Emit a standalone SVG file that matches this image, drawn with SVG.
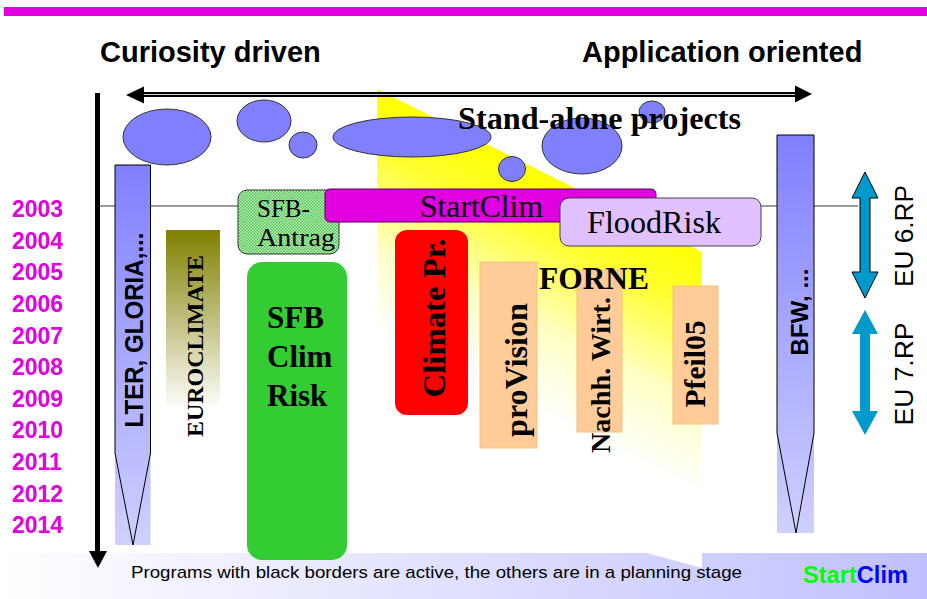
<svg xmlns="http://www.w3.org/2000/svg" width="927" height="599" viewBox="0 0 927 599">
<defs>
<style>
.yr{font-family:"Liberation Sans",Arial,sans-serif;font-weight:bold;font-size:23px;fill:#e000e0}
.hd{font-family:"Liberation Sans",Arial,sans-serif;font-weight:bold;font-size:29px;fill:#000}
.sb{font-family:"Liberation Serif","Times New Roman",serif;font-weight:bold;fill:#000}
.sr{font-family:"Liberation Serif","Times New Roman",serif;fill:#000}
.ss{font-family:"Liberation Sans",Arial,sans-serif;fill:#000}
.ell{fill:#8080ff;stroke:#333;stroke-width:1}
.peach{fill:#ffcc99;stroke:#f5c078;stroke-width:1}
</style>
<linearGradient id="foot" x1="0" y1="0" x2="1" y2="0">
<stop offset="0" stop-color="#ffffff"/><stop offset="1" stop-color="#c0c0ff"/>
</linearGradient>
<linearGradient id="blue" x1="0" y1="0" x2="0" y2="1">
<stop offset="0" stop-color="#8080ff"/><stop offset="1" stop-color="#d0d0ff"/>
</linearGradient>
<linearGradient id="olive" x1="0" y1="0" x2="0" y2="1">
<stop offset="0" stop-color="#808000"/><stop offset="1" stop-color="#ffffff"/>
</linearGradient>
<linearGradient id="yel" gradientUnits="userSpaceOnUse" x1="540" y1="170" x2="442" y2="367">
<stop offset="0" stop-color="#ffff00"/><stop offset="0.25" stop-color="#ffff30"/><stop offset="0.65" stop-color="#ffffc8"/><stop offset="1" stop-color="#ffffff"/>
</linearGradient>
<pattern id="chk" width="3" height="3" patternUnits="userSpaceOnUse">
<rect width="3" height="3" fill="#c4f0c4"/><rect width="1.5" height="1.5" fill="#4cc44c"/><rect x="1.5" y="1.5" width="1.5" height="1.5" fill="#4cc44c"/>
</pattern>
</defs>

<rect x="0" y="0" width="927" height="599" fill="#ffffff"/>
<rect id="topbar" x="4" y="7" width="923" height="9" fill="#e000e0"/>
<rect id="footer" x="0" y="553" width="927" height="46" fill="url(#foot)"/>

<g id="headings">
<text class="hd" x="100" y="62">Curiosity driven</text>
<text class="hd" x="582" y="62">Application oriented</text>
</g>

<g id="years">
<text class="yr" x="12" y="217">2003</text>
<text class="yr" x="12" y="249">2004</text>
<text class="yr" x="12" y="280">2005</text>
<text class="yr" x="12" y="312">2006</text>
<text class="yr" x="12" y="344">2007</text>
<text class="yr" x="12" y="375">2008</text>
<text class="yr" x="12" y="407">2009</text>
<text class="yr" x="12" y="438">2010</text>
<text class="yr" x="12" y="470">2011</text>
<text class="yr" x="12" y="502">2012</text>
<text class="yr" x="12" y="533">2014</text>
</g>

<g id="forne-area">
<polygon points="377,89 702,252 702,568 377,480" fill="url(#yel)"/>
</g>

<g id="connectors">
<line x1="100" y1="206" x2="858" y2="206" stroke="#777" stroke-width="1.5"/>
<rect x="140" y="92" width="658" height="5" fill="#000"/>
<line x1="140" y1="94.5" x2="798" y2="94.5" stroke="#ccc" stroke-width="1.2"/>
<polygon points="126,95 144,86.5 144,103.5" fill="#000"/>
<polygon points="812,94 795,85.5 795,102.5" fill="#000"/>
<rect x="95" y="93" width="5" height="460" fill="#000"/>
<polygon points="89,551 107,551 98,568" fill="#000"/>
</g>

<g id="standalone">
<ellipse class="ell" cx="167" cy="137" rx="44" ry="28"/>
<ellipse class="ell" cx="264" cy="121" rx="27" ry="21"/>
<ellipse class="ell" cx="303" cy="145" rx="14" ry="13"/>
<ellipse class="ell" cx="412" cy="137" rx="79" ry="20"/>
<ellipse class="ell" cx="582" cy="146" rx="40" ry="28"/>
<ellipse class="ell" cx="652" cy="112" rx="13" ry="11"/>
<ellipse class="ell" cx="512" cy="169" rx="13.5" ry="12.5"/>
<text class="sb" x="458" y="129" font-size="31" textLength="283" lengthAdjust="spacingAndGlyphs">Stand-alone projects</text>
</g>

<g id="lter">
<rect x="115" y="165" width="35.5" height="380" fill="url(#blue)"/>
<path d="M115,453 L115,165 L150.5,165 L150.5,453 L133,545 Z" fill="none" stroke="#000" stroke-width="1"/>
<text class="ss" font-weight="bold" font-size="26" text-anchor="middle" textLength="195" lengthAdjust="spacingAndGlyphs" transform="translate(143,330) rotate(-90)">LTER, GLORIA,...</text>
</g>

<g id="euroclimate">
<rect x="166" y="230" width="54" height="180" fill="url(#olive)"/>
<text class="sb" font-size="24" text-anchor="middle" textLength="182" lengthAdjust="spacingAndGlyphs" transform="translate(203,346) rotate(-90)">EUROCLIMATE</text>
</g>

<g id="sfb-antrag">
<rect x="238" y="190" width="101" height="64" rx="9" fill="url(#chk)" stroke="#333" stroke-width="1"/>
<text class="sr" x="257" y="217" font-size="25">SFB-</text>
<text class="sr" x="257" y="246" font-size="25" textLength="78" lengthAdjust="spacingAndGlyphs">Antrag</text>
</g>

<g id="startclim">
<rect x="325" y="189" width="331" height="33" rx="5" fill="#e000e0" stroke="#550055" stroke-width="1"/>
<text class="sr" x="420" y="217" font-size="31" textLength="123" lengthAdjust="spacingAndGlyphs">StartClim</text>
</g>

<g id="floodrisk">
<rect x="560" y="198" width="201" height="48" rx="9" fill="#e0c0ff" stroke="#444" stroke-width="1"/>
<text class="sr" x="587" y="233" font-size="32" textLength="134" lengthAdjust="spacingAndGlyphs">FloodRisk</text>
</g>

<g id="sfb-climrisk">
<rect x="247" y="262" width="100" height="298" rx="15" fill="#33cc33"/>
<text class="sb" x="267" y="328" font-size="31">SFB</text>
<text class="sb" x="267" y="367" font-size="31">Clim</text>
<text class="sb" x="267" y="406" font-size="31">Risk</text>
</g>

<g id="climate-pr">
<rect x="395" y="230" width="73" height="185" rx="12" fill="#ff0000"/>
<text class="sb" font-size="31" text-anchor="middle" textLength="159" lengthAdjust="spacingAndGlyphs" transform="translate(445,318) rotate(-90)">Climate Pr.</text>
</g>

<g id="provision">
<rect class="peach" x="480" y="262" width="57" height="186"/>
<text class="sb" font-size="31" text-anchor="middle" textLength="134" lengthAdjust="spacingAndGlyphs" transform="translate(527,370) rotate(-90)">proVision</text>
</g>

<g id="nachh-wirt">
<rect class="peach" x="577" y="270" width="45" height="162"/>
<text class="sb" font-size="28" text-anchor="middle" textLength="156" lengthAdjust="spacingAndGlyphs" transform="translate(610,375) rotate(-90)">Nachh. Wirt.</text>
</g>

<g id="forne">
<text class="sb" x="539" y="289" font-size="31" textLength="110" lengthAdjust="spacingAndGlyphs">FORNE</text>
</g>

<g id="pfeil05">
<rect class="peach" x="673" y="286" width="45" height="138"/>
<text class="sb" font-size="29" text-anchor="middle" textLength="87" lengthAdjust="spacingAndGlyphs" transform="translate(705,364) rotate(-90)">Pfeil05</text>
</g>

<g id="bfw">
<rect x="777" y="135" width="37" height="398" fill="url(#blue)"/>
<path d="M777,433 L777,135 L814,135 L814,433 L796,533 Z" fill="none" stroke="#000" stroke-width="1"/>
<text class="ss" font-weight="bold" font-size="24" text-anchor="middle" textLength="87" lengthAdjust="spacingAndGlyphs" transform="translate(808,312) rotate(-90)">BFW, ...</text>
</g>

<g id="eu6">
<path d="M865,172 L878,198 L870,198 L870,272 L878,272 L865,298 L852,272 L860,272 L860,198 L852,198 Z" fill="#0099cc" stroke="#000" stroke-width="1"/>
<text class="ss" font-size="26" text-anchor="middle" textLength="102" lengthAdjust="spacingAndGlyphs" transform="translate(913,236) rotate(-90)">EU 6.RP</text>
</g>

<g id="eu7">
<path d="M865,310 L878,334 L870,334 L870,411 L878,411 L865,435 L852,411 L860,411 L860,334 L852,334 Z" fill="#0099cc"/>
<text class="ss" font-size="26" text-anchor="middle" textLength="103" lengthAdjust="spacingAndGlyphs" transform="translate(913,374) rotate(-90)">EU 7.RP</text>
</g>

<g id="footnote">
<text class="ss" x="131" y="578" font-size="17" textLength="611" lengthAdjust="spacingAndGlyphs">Programs with black borders are active, the others are in a planning stage</text>
<text class="ss" x="803" y="583" font-size="23" font-weight="bold" textLength="105" lengthAdjust="spacingAndGlyphs"><tspan fill="#00ff00">Start</tspan><tspan fill="#0000ff">Clim</tspan></text>
</g>
</svg>
